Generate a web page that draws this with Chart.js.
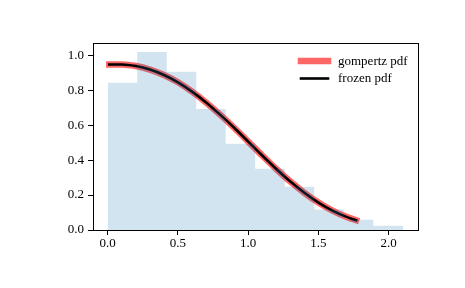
<!DOCTYPE html>
<html><head><meta charset="utf-8">
<script src="https://cdn.jsdelivr.net/npm/chart.js@4/dist/chart.umd.min.js"></script>
<style>html,body{margin:0;padding:0;background:#fff;}#wrap{width:465px;height:288px;}</style>
</head><body><div id="wrap"><canvas id="c" width="465" height="288"></canvas></div>
<script>
// Histogram (density)
const histEdges = [0.0, 0.21, 0.42, 0.63, 0.84, 1.05, 1.26, 1.47, 1.68, 1.89, 2.104];
const histHeights = [0.842, 1.019, 0.905, 0.693, 0.493, 0.350, 0.247, 0.117, 0.059, 0.025];
// pdf curve points
const pdfX = [0.0106, 0.1, 0.2, 0.3, 0.4, 0.5, 0.6, 0.7, 0.8, 0.9, 1.0, 1.1, 1.2, 1.3, 1.4, 1.5, 1.6, 1.7, 1.7685];
const pdfY = [0.947, 0.947, 0.938, 0.918, 0.887, 0.845, 0.792, 0.730, 0.660, 0.585, 0.506, 0.426, 0.349, 0.277, 0.213, 0.157, 0.111, 0.075, 0.056];
const xTicks = [0.0, 0.5, 1.0, 1.5, 2.0];
const yTicks = [0.0, 0.2, 0.4, 0.6, 0.8, 1.0];
const seriesLabels = ['gompertz pdf', 'frozen pdf'];

const FONT = 'Liberation Serif';
const curve = pdfX.map((x, i) => ({x: x, y: pdfY[i]}));
const histPts = histEdges.map((x, i) => ({x: x, y: histHeights[Math.min(i, histHeights.length - 1)]}));

const framePlugin = {
  id: 'frame',
  afterDraw(chart) {
    const {ctx, chartArea: a} = chart;
    ctx.save();
    ctx.strokeStyle = '#000';
    ctx.lineWidth = 1;
    ctx.strokeRect(Math.round(a.left) + 0.5, Math.round(a.top) + 0.5, Math.round(a.right - a.left), Math.round(a.bottom - a.top));
    // legend (frameless, upper right)
    const items = [
      {label: seriesLabels[0], color: 'rgba(255,0,0,0.6)', w: 6.5},
      {label: seriesLabels[1], color: '#000', w: 2.6}
    ];
    const x0 = 301, x1 = 328, tx = 338;
    const ys = [61, 78.5];
    ctx.font = '13px "' + FONT + '"';
    ctx.textBaseline = 'middle';
    ctx.textAlign = 'left';
    items.forEach((it, i) => {
      ctx.strokeStyle = it.color;
      ctx.lineWidth = it.w;
      ctx.lineCap = 'square';
      ctx.beginPath();
      ctx.moveTo(x0, ys[i]);
      ctx.lineTo(x1, ys[i]);
      ctx.stroke();
      ctx.fillStyle = '#000';
      ctx.fillText(it.label, tx, ys[i] + 0.5);
    });
    ctx.restore();
  }
};

new Chart(document.getElementById('c'), {
  type: 'line',
  data: {
    datasets: [
      {label: 'hist', data: histPts, stepped: 'before', fill: 'origin', backgroundColor: 'rgba(31,119,180,0.2)', borderWidth: 0, borderColor: 'rgba(0,0,0,0)', pointRadius: 0, order: 0},
      {label: seriesLabels[1], data: curve, borderColor: '#000', borderWidth: 2.6, pointRadius: 0, cubicInterpolationMode: 'monotone', fill: false, order: 1, borderCapStyle: 'square'},
      {label: seriesLabels[0], data: curve, borderColor: 'rgba(255,0,0,0.6)', borderWidth: 6.5, pointRadius: 0, cubicInterpolationMode: 'monotone', fill: false, order: 2, borderCapStyle: 'square'}
    ]
  },
  options: {
    responsive: false,
    animation: false,
    devicePixelRatio: 1,
    layout: {padding: {left: 0, top: 43, right: 47, bottom: 0}},
    plugins: {legend: {display: false}, tooltip: {enabled: false}},
    scales: {
      x: {
        type: 'linear', min: -0.105, max: 2.209,
        afterBuildTicks: s => { s.ticks = xTicks.map(v => ({value: v})); },
        afterFit: s => { s.height = 58; },
        grid: {drawOnChartArea: false, tickLength: 5, color: '#000', tickColor: '#000'},
        border: {display: false},
        ticks: {color: '#000', font: {family: FONT, size: 13}, padding: 1, maxRotation: 0, callback: v => Number(v).toFixed(1)}
      },
      y: {
        type: 'linear', min: 0, max: 1.070,
        afterBuildTicks: s => { s.ticks = yTicks.map(v => ({value: v})); },
        afterFit: s => { s.width = 93; },
        grid: {drawOnChartArea: false, tickLength: 5, color: '#000', tickColor: '#000'},
        border: {display: false},
        ticks: {color: '#000', font: {family: FONT, size: 13}, padding: 4, callback: v => Number(v).toFixed(1)}
      }
    }
  },
  plugins: [framePlugin]
});
</script></body></html>
